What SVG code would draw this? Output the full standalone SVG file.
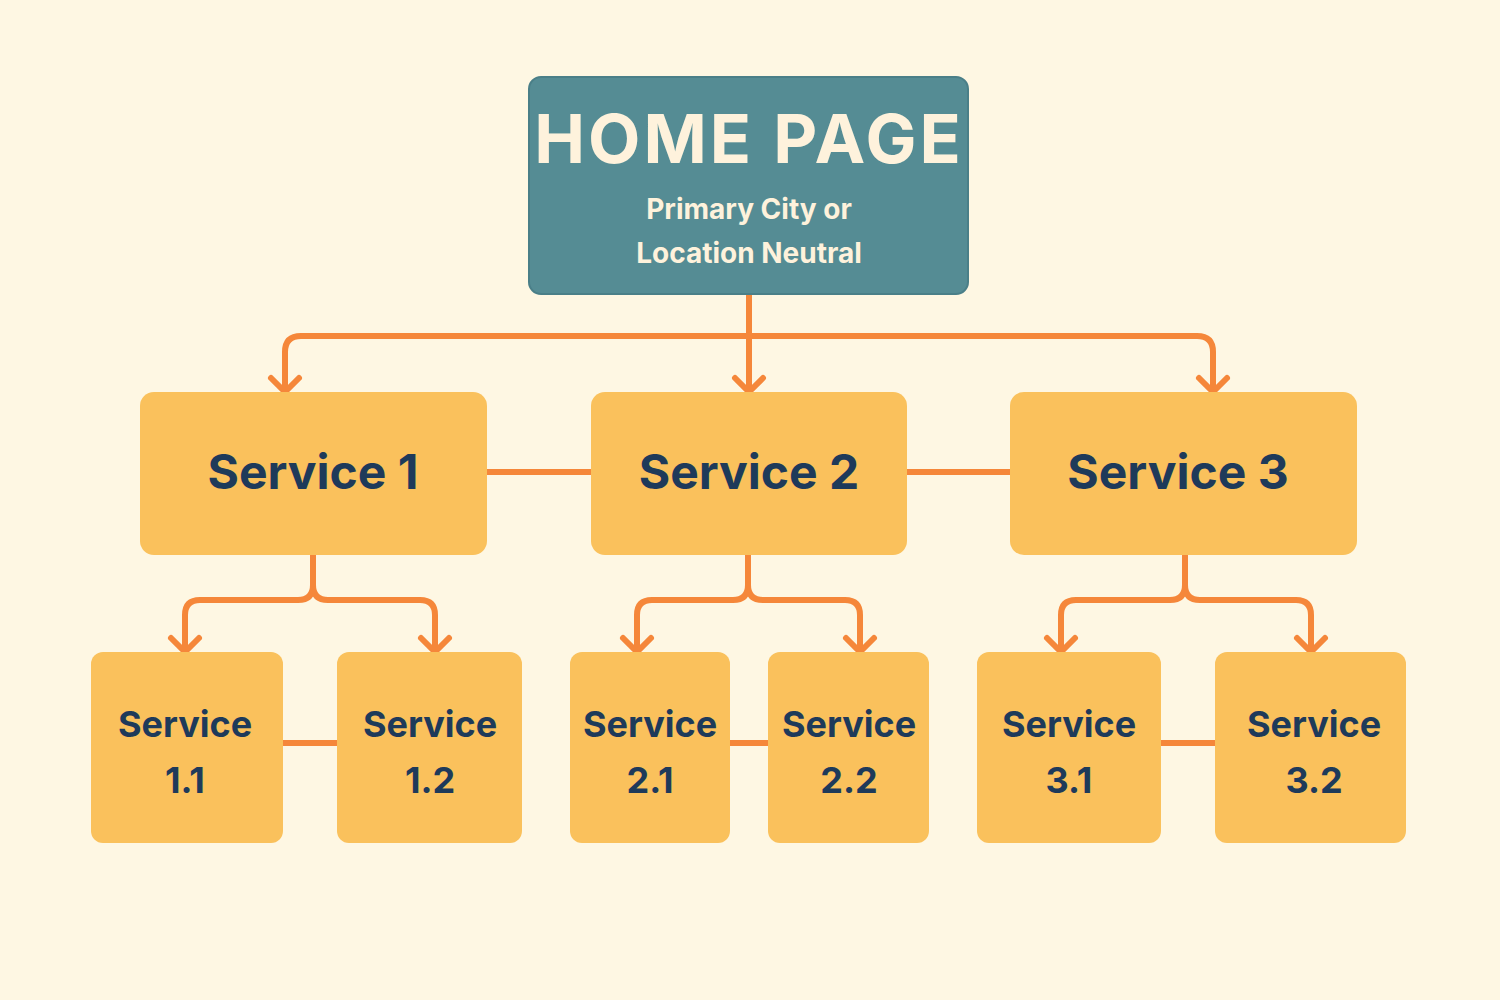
<svg xmlns="http://www.w3.org/2000/svg" width="1500" height="1000" viewBox="0 0 1500 1000">
<defs>
<style>
.bg{fill:#FEF7E3}
.home{fill:#558C94;stroke:#4A7F88;stroke-width:2}
.box{fill:#FAC15C}
.ht{font-family:Inter,"Open Sans",sans-serif;font-weight:700;fill:#FEF2DC;text-anchor:middle}
.st{font-family:Inter,"Open Sans",sans-serif;font-weight:700;fill:#1E3A5A;text-anchor:middle}
.c{fill:none;stroke:#F5873A;stroke-width:6;stroke-linecap:round;stroke-linejoin:round}
</style>
<marker id="a" viewBox="0 0 20 20" refX="10" refY="14" markerWidth="20" markerHeight="20" markerUnits="userSpaceOnUse" orient="auto-start-reverse">
<path d="M2,6 L10,14 L18,6" fill="none" stroke="#F5873A" stroke-width="4" stroke-linecap="round" stroke-linejoin="round" transform="rotate(-90 10 10)"/>
</marker>
</defs>
<rect class="bg" width="1500" height="1000"/>
<g id="connectors">
<path class="c" d="M749,294 V390"/>
<path class="c" d="M285,392 V352 Q285,336 301,336 H1197 Q1213,336 1213,352 V392"/>
<path class="c" d="M487,472 H591 M907,472 H1010"/>
<path class="c" d="M283,743 H337 M730,743 H768 M1161,743 H1215"/>
<path class="c" d="M313,555 V585 Q313,600 298,600 H200 Q185,600 185,615 V652 M313,585 Q313,600 328,600 H420 Q435,600 435,615 V652"/>
<path class="c" d="M748,555 V585 Q748,600 733,600 H652 Q637,600 637,615 V652 M748,585 Q748,600 763,600 H845 Q860,600 860,615 V652"/>
<path class="c" d="M1185,555 V585 Q1185,600 1170,600 H1076 Q1061,600 1061,615 V652 M1185,585 Q1185,600 1200,600 H1296 Q1311,600 1311,615 V652"/>
<g fill="none" stroke="#F5873A" stroke-width="6" stroke-linecap="round" stroke-linejoin="round">
<path d="M271,378 L285,392 L299,378"/><path d="M735,378 L749,392 L763,378"/><path d="M1199,378 L1213,392 L1227,378"/>
<path d="M171,638 L185,652 L199,638"/><path d="M421,638 L435,652 L449,638"/>
<path d="M623,638 L637,652 L651,638"/><path d="M846,638 L860,652 L874,638"/>
<path d="M1047,638 L1061,652 L1075,638"/><path d="M1297,638 L1311,652 L1325,638"/>
</g>
</g>
<g id="home"><rect class="home" x="529" y="77" width="439" height="217" rx="12"/>
<text class="ht" x="749" y="163" font-size="68" letter-spacing="3">HOME PAGE</text>
<text class="ht" x="749" y="219" font-size="28">Primary City or</text>
<text class="ht" x="749" y="263" font-size="28">Location Neutral</text></g>
<g id="s1"><rect class="box" x="140" y="392" width="347" height="163" rx="14"/><text class="st" x="313" y="489" font-size="48">Service 1</text></g>
<g id="s2"><rect class="box" x="591" y="392" width="316" height="163" rx="14"/><text class="st" x="749" y="489" font-size="48">Service 2</text></g>
<g id="s3"><rect class="box" x="1010" y="392" width="347" height="163" rx="14"/><text class="st" x="1178" y="489" font-size="48">Service 3</text></g>
<g id="s11"><rect class="box" x="91" y="652" width="192" height="191" rx="12"/><text class="st" x="185" y="737" font-size="36">Service</text><text class="st" x="185" y="793" font-size="36">1.1</text></g>
<g id="s12"><rect class="box" x="337" y="652" width="185" height="191" rx="12"/><text class="st" x="430" y="737" font-size="36">Service</text><text class="st" x="430" y="793" font-size="36">1.2</text></g>
<g id="s21"><rect class="box" x="570" y="652" width="160" height="191" rx="12"/><text class="st" x="650" y="737" font-size="36">Service</text><text class="st" x="650" y="793" font-size="36">2.1</text></g>
<g id="s22"><rect class="box" x="768" y="652" width="161" height="191" rx="12"/><text class="st" x="849" y="737" font-size="36">Service</text><text class="st" x="849" y="793" font-size="36">2.2</text></g>
<g id="s31"><rect class="box" x="977" y="652" width="184" height="191" rx="12"/><text class="st" x="1069" y="737" font-size="36">Service</text><text class="st" x="1069" y="793" font-size="36">3.1</text></g>
<g id="s32"><rect class="box" x="1215" y="652" width="191" height="191" rx="12"/><text class="st" x="1314" y="737" font-size="36">Service</text><text class="st" x="1314" y="793" font-size="36">3.2</text></g>
</svg>
